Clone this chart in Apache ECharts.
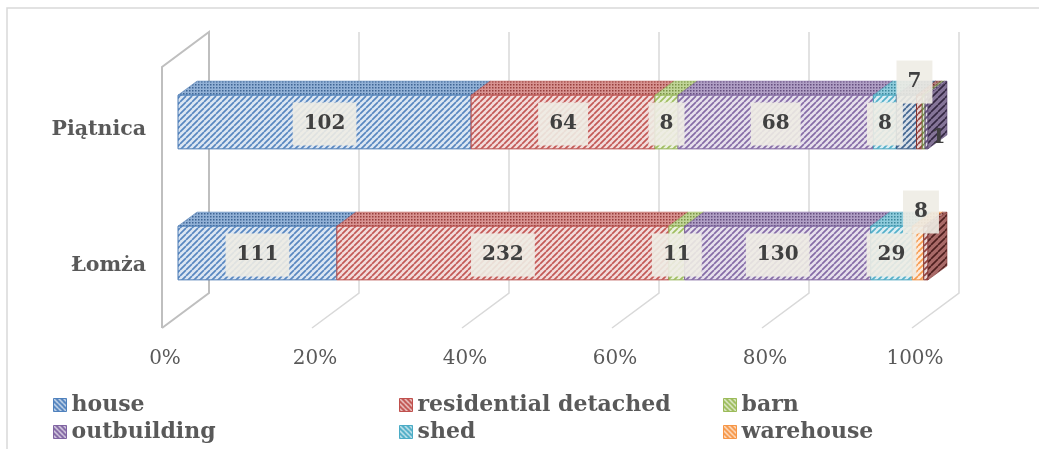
<!DOCTYPE html>
<html>
<head>
<meta charset="utf-8">
<script src="https://cdn.jsdelivr.net/npm/echarts@6/dist/echarts.min.js"></script>
<style>
  html, body { margin: 0; padding: 0; background: #ffffff; }
  #chart { width: 1039px; height: 449px; }
</style>
</head>
<body>
<div id="chart"></div>
<script>
// ---- data -------------------------------------------------------------
const categories = ['Piątnica', 'Łomża'];
const seriesNames = ['house', 'residential detached', 'barn', 'outbuilding', 'shed', 'warehouse',
                     'Series 7', 'Series 8', 'Series 9', 'Series 10'];
const house               = [102, 111];
const residentialDetached = [64, 232];
const barn                = [8, 11];
const outbuilding         = [68, 130];
const shed                = [8, 29];
const warehouse           = [0, 8];
const series7             = [7, 0];
const series8             = [2, 3];
const series9             = [1, 0];
const series10            = [1, 0];
const xTicks = [0, 20, 40, 60, 80, 100];

// ---- styling ----------------------------------------------------------
const valueSets = [house, residentialDetached, barn, outbuilding, shed, warehouse,
                   series7, series8, series9, series10];
const colors = ['#4f81bd', '#c0504d', '#9bbb59', '#8064a2', '#4bacc6', '#f79646',
                '#385d8a', '#8c3836', '#71893f', '#5c4776'];
const totals = categories.map((_, c) => valueSets.reduce((s, v) => s + v[c], 0));

const DX = 19, DY = -14;          // depth of the 3D bar box
const BAR_RATIO = 0.41;           // front face height relative to the category band
const LABEL_FONT = 'bold 20px "DejaVu Serif"';
const hiddenLabels = [7, 8];      // series whose labels are not shown
const plainLabels = [9];          // labels without a backing box
const labelNudge = { '6-0': [8, -40], '9-0': [12, 16], '5-1': [3, -41] };

function hexToRgb(h) {
  const n = parseInt(h.slice(1), 16);
  return [(n >> 16) & 255, (n >> 8) & 255, n & 255];
}
function mix(hex, target, t) {
  const a = hexToRgb(hex), b = hexToRgb(target);
  return 'rgb(' + a.map((v, k) => Math.round(v + (b[k] - v) * t)).join(',') + ')';
}
function tile(size, draw) {
  const cv = document.createElement('canvas');
  cv.width = cv.height = size;
  draw(cv.getContext('2d'), size);
  return { image: cv, repeat: 'repeat' };
}
function stripes(bg, fg, size, width, down) {
  return tile(size, (g, s) => {
    g.fillStyle = bg; g.fillRect(0, 0, s, s);
    g.strokeStyle = fg; g.lineWidth = width;
    g.beginPath();
    for (let k = -1; k <= 1; k++) {
      if (down) { g.moveTo(k * s, 0); g.lineTo(k * s + s, s); }
      else { g.moveTo(k * s, s); g.lineTo(k * s + s, 0); }
    }
    g.stroke();
  });
}
function dots(bg, fg) {
  return tile(3, (g, s) => {
    g.fillStyle = bg; g.fillRect(0, 0, s, s);
    g.fillStyle = fg; g.fillRect(0, 0, 1.5, 1.5);
  });
}
const fills = colors.map(c => ({
  front: stripes(mix(c, '#ffffff', 0.8), mix(c, '#ffffff', 0.05), 6, 1.7, false),
  top: dots(mix(c, '#ffffff', 0.38), mix(c, '#000000', 0.22)),
  side: stripes(mix(c, '#ffffff', 0.25), mix(c, '#000000', 0.45), 7, 1.6, false),
  legend: stripes(c, '#ffffff', 5, 1.2, true)
}));

// ---- drawing ----------------------------------------------------------
function renderSegment(i, params, api) {
  const c = api.value(0);
  const v = valueSets[i][c];
  if (!v) return;
  let before = 0;
  for (let k = 0; k < i; k++) before += valueSets[k][c];
  const a = api.coord([before / totals[c] * 100, c]);
  const b = api.coord([(before + v) / totals[c] * 100, c]);
  const h = api.size([0, 1])[1] * BAR_RATIO;
  const x0 = a[0], x1 = b[0], yc = a[1], yt = yc - h / 2, yb = yc + h / 2;
  const edge = mix(colors[i], '#000000', 0.05);
  const children = [
    { type: 'polygon',
      shape: { points: [[x0, yt], [x1, yt], [x1 + DX, yt + DY], [x0 + DX, yt + DY]] },
      style: { fill: fills[i].top, stroke: edge, lineWidth: 0.6 } },
    { type: 'rect',
      shape: { x: x0, y: yt, width: x1 - x0, height: h },
      style: { fill: fills[i].front, stroke: edge, lineWidth: 1 } }
  ];
  const isLast = valueSets.slice(i + 1).every(vs => !vs[c]);
  if (isLast) {
    children.push({ type: 'polygon',
      shape: { points: [[x1, yt], [x1 + DX, yt + DY], [x1 + DX, yb + DY], [x1, yb]] },
      style: { fill: fills[i].side, stroke: edge, lineWidth: 0.6 } });
  }
  if (hiddenLabels.indexOf(i) < 0) {
    const nudge = labelNudge[i + '-' + c] || [0, 2];
    const plain = plainLabels.indexOf(i) >= 0;
    children.push({ type: 'text', z2: 50,
      x: (x0 + x1) / 2 + nudge[0], y: yc + nudge[1],
      style: { text: String(v), font: LABEL_FONT, fill: '#404040',
               align: 'center', verticalAlign: 'middle',
               backgroundColor: plain ? 'transparent' : 'rgba(238,236,228,0.9)',
               padding: plain ? 0 : [12, 11, 11, 11] } });
  }
  return { type: 'group', children: children };
}

function renderWall(params, api) {
  const tick = api.value(0);
  const rect = params.coordSys;
  const xb = api.coord([tick, 0])[0] + 31;
  const topY = rect.y - 24.5, backY = rect.y + rect.height - 25.5, frontY = rect.y + rect.height + 9.5;
  const run = 47, rise = frontY - backY;
  const first = tick === xTicks[0];
  const style = { stroke: first ? '#bfbfbf' : '#d9d9d9', lineWidth: first ? 2 : 1.5, fill: null };
  const pts = first
    ? [[xb - run, frontY], [xb - run, topY + rise], [xb, topY], [xb, backY], [xb - run, frontY]]
    : [[xb, topY], [xb, backY], [xb - run, frontY]];
  return { type: 'polyline', shape: { points: pts }, style: style, silent: true };
}

const chart = echarts.init(document.getElementById('chart'));

const barSeries = seriesNames.map((name, i) => ({
  type: 'custom', name: name,
  xAxisIndex: 0, yAxisIndex: 0,
  itemStyle: { color: colors[i] },
  data: categories.map((_, c) => [c]),
  encode: { y: 0 },
  renderItem: (params, api) => renderSegment(i, params, api)
}));

const legendText = { fontFamily: 'DejaVu Serif', fontWeight: 'bold', fontSize: 22, color: '#595959' };
function legendBlock(left, names) {
  return {
    orient: 'vertical', left: left, top: 394, padding: 0, itemGap: 5,
    itemWidth: 13, itemHeight: 13, icon: 'rect', selectedMode: false,
    textStyle: legendText,
    data: names.map(n => {
      const i = seriesNames.indexOf(n);
      return { name: n, itemStyle: { color: fills[i].legend, borderColor: colors[i], borderWidth: 1 } };
    })
  };
}

chart.setOption({
  backgroundColor: '#ffffff',
  animation: false,
  graphic: [{ type: 'rect', silent: true,
              shape: { x: 7, y: 8, width: 1100, height: 500 },
              style: { fill: null, stroke: '#d9d9d9', lineWidth: 1.5 } }],
  grid: [
    { left: 178, width: 750, top: 56.5, height: 262 },
    { left: 178, width: 750, top: 62, height: 272 }
  ],
  xAxis: [
    { type: 'value', gridIndex: 0, min: 0, max: 100, interval: 20,
      axisLine: { show: false }, axisTick: { show: false }, splitLine: { show: false },
      axisLabel: { formatter: '{value}%', margin: 30, color: '#595959',
                   fontFamily: 'DejaVu Serif', fontSize: 20, padding: [0, 26, 0, 0] } },
    { type: 'value', gridIndex: 1, min: 0, max: 100, show: false }
  ],
  yAxis: [
    { type: 'category', gridIndex: 0, data: categories, inverse: true, show: false },
    { type: 'category', gridIndex: 1, data: categories, inverse: true,
      axisLine: { show: false }, axisTick: { show: false }, splitLine: { show: false },
      axisLabel: { margin: 32, color: '#595959', fontFamily: 'DejaVu Serif',
                   fontWeight: 'bold', fontSize: 20.5 } }
  ],
  legend: [
    legendBlock(53, ['house', 'outbuilding']),
    legendBlock(399, ['residential detached', 'shed']),
    legendBlock(723, ['barn', 'warehouse'])
  ],
  series: [{
    type: 'custom', name: 'walls', z: 1, silent: true,
    xAxisIndex: 0, yAxisIndex: 0,
    data: xTicks.map(t => [t]),
    encode: { x: 0 },
    renderItem: renderWall
  }].concat(barSeries)
});
</script>
</body>
</html>
